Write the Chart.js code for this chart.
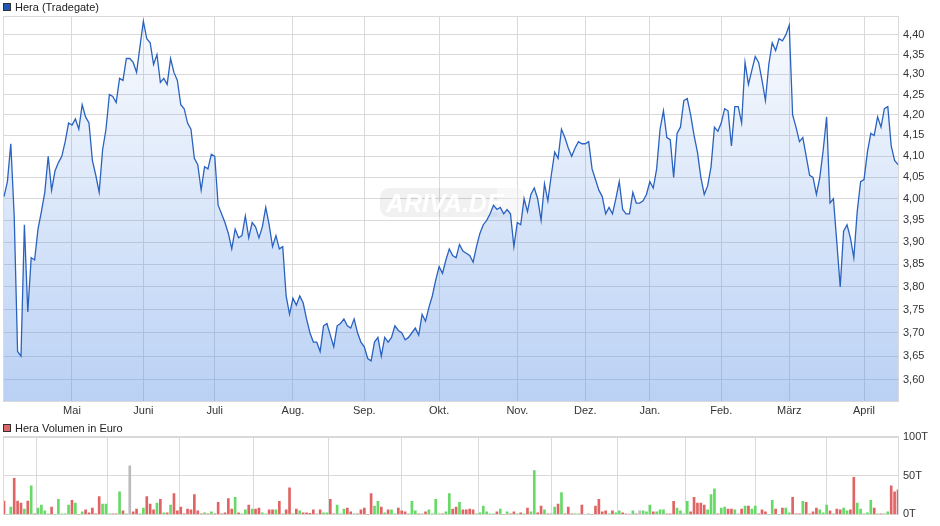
<!DOCTYPE html>
<html>
<head>
<meta charset="utf-8">
<script src="https://cdn.jsdelivr.net/npm/chart.js@4.4.1/dist/chart.umd.min.js"></script>
<style>
  body { margin: 0; width: 940px; height: 526px; background: #fff; position: relative; overflow: hidden; font-family: "Liberation Sans", Arial, sans-serif; }
  canvas { position: absolute; left: 0; }
  .legend { position: absolute; left: 3px; font-size: 11px; color: #222; line-height: 13px; white-space: nowrap; }
  .legend span.box { display: inline-block; width: 6px; height: 6px; border: 1px solid #333; margin-right: 4px; vertical-align: 0px; }
</style>
</head>
<body>
<canvas id="priceCanvas" width="940" height="420" style="top:0"></canvas>
<canvas id="volumeCanvas" width="940" height="106" style="top:420px"></canvas>
<div class="legend" style="top:1px"><span class="box" style="background:#1f56b8"></span>Hera (Tradegate)</div>
<div class="legend" style="top:422px"><span class="box" style="background:#dd6666"></span>Hera Volumen in Euro</div>
<script>
// daily closes (Tradegate)
const prices = [
  4.005,4.04,4.13,3.96,3.66,3.65,3.94,3.745,3.865,3.86,
  3.93,3.97,4.015,4.10,4.02,4.065,4.085,4.10,4.135,4.18,
  4.175,4.19,4.165,4.225,4.195,4.18,4.09,4.055,4.015,4.115,
  4.165,4.25,4.245,4.23,4.29,4.285,4.34,4.34,4.33,4.305,
  4.37,4.435,4.39,4.38,4.325,4.35,4.28,4.29,4.275,4.34,
  4.305,4.285,4.225,4.215,4.18,4.165,4.095,4.08,4.02,4.075,
  4.07,4.105,4.10,3.985,3.965,3.945,3.92,3.885,3.93,3.91,
  3.915,3.96,3.91,3.945,3.935,3.91,3.935,3.98,3.94,3.89,
  3.915,3.885,3.89,3.78,3.74,3.775,3.76,3.78,
  3.765,3.73,3.70,3.68,3.68,3.66,3.715,3.72,3.695,3.67,
  3.715,3.72,3.73,3.715,3.71,3.73,3.70,3.68,3.67,3.645,
  3.64,3.68,3.69,3.65,3.69,3.68,3.69,3.715,3.705,3.70,
  3.685,3.69,3.70,3.71,3.695,3.74,3.725,3.755,3.78,3.815,
  3.845,3.83,3.86,3.885,3.87,3.865,3.895,3.88,3.875,3.87,
  3.855,3.89,3.92,3.94,3.95,3.965,3.985,3.975,3.98,3.965,
  3.975,3.965,3.89,3.945,3.94,4.00,3.97,4.01,4.025,4.00,
  3.95,4.035,3.995,4.055,4.11,4.095,4.165,4.145,4.12,4.10,
  4.12,4.135,4.13,4.13,4.135,4.07,4.045,4.02,
  4.005,3.965,3.98,3.965,4.00,4.04,3.975,3.965,3.965,4.015,
  3.99,3.99,3.995,4.01,4.04,4.025,4.07,4.165,4.21,4.145,
  4.14,4.05,4.155,4.17,4.235,4.24,4.20,4.15,4.11,4.05,
  4.01,4.03,4.075,4.17,4.16,4.18,4.215,4.21,4.125,4.22,
  4.22,4.18,4.33,4.275,4.31,4.345,4.33,4.285,4.235,4.325,
  4.38,4.36,4.39,4.385,4.40,4.425,4.20,4.17,4.135,4.145,
  4.10,4.055,4.05,4.01,4.05,4.115,4.195,3.99,4.00,3.90,
  3.80,3.925,3.94,3.91,3.865,3.97,4.04,4.045,4.11,4.155,
  4.15,4.195,4.17,4.215,4.22,4.125,4.09,4.08
];

// daily turnover in thousand euro
const volumes = [
  17.3,0,9.5,46.7,17.3,14.5,7.0,17.3,36.8,0.8,
  8.3,12,4.5,0.8,9.5,0,19.4,0.8,0.8,12,
  18.2,14.5,0,3.3,5.8,2.1,8.3,0.8,23.1,13.2,
  13.2,0.8,0.8,0.8,29.3,4.5,0.8,62.8,3.3,7.0,
  0.8,8.3,23.1,13.2,5.8,14.5,19.4,2.1,2.1,12,
  26.8,4.5,9.5,0.8,7.0,5.8,25.6,4.5,0.8,2.1,
  0.8,3.3,0.8,15.7,0.8,2.1,20.6,7.0,21.9,2.1,
  0.8,5.8,12,7.0,7.0,8.3,2.1,0.8,5.8,5.8,
  5.8,16.9,0.8,5.8,34.3,0.8,7.0,4.5,2.1,2.1,
  1.5,5.8,0.8,5.8,2.1,2.1,19.4,0.8,12,0.8,
  7.0,8.3,3.3,0.8,0.8,5.8,8.3,0,26.8,10.7,
  16.9,9.5,2.1,5.8,5.8,0.8,8.3,4.5,3.3,0.8,
  16.9,4.5,0.8,0.8,3.3,5.8,0.8,19.4,0.8,0.8,
  3.3,26.8,7.0,9.5,15.7,5.8,5.8,7.0,5.8,0.8,
  2.1,10.7,3.3,0.8,0.8,3.3,7.0,0,3.3,0.8,
  3.3,0.8,2.1,0.8,8.3,3.3,56.6,2.1,10.7,5.8,
  0.8,0.8,9.5,13.2,28.1,0.8,9.5,0.8,0.8,0.8,
  12,0,0.8,0,10.7,19.4,3.3,4.5,0.8,4.5,
  2.1,4.5,2.1,0.8,0.8,4.5,0.8,4.5,4.5,3.3,
  12,3.3,3.3,5.8,5.8,0.8,0.8,16.9,8.3,4.5,
  0.8,16.9,3.3,21.9,14.5,14.5,12,5.8,25.6,33,
  0.8,8.3,9.5,7.0,7.0,5.8,0.8,7.0,10.7,10.7,
  7.0,10.7,0.8,5.8,3.3,0,18.2,7.0,0,8.3,
  8.3,2.1,21.9,0.8,0.8,16.9,15.7,0.8,3.3,8.3,
  5.8,2.1,12,4.5,0.8,7.0,5.8,8.3,4.5,5.8,
  47.9,14.5,7.0,0.8,2.1,18.2,8.3,0.8,0.8,0.8,
  3.3,36.8,29.3,31.8
];

const monthNames = ['Mai','Juni','Juli','Aug.','Sep.','Okt.','Nov.','Dez.','Jan.','Feb.','März','April'];
const monthStarts = [20,41,62,85,106,128,151,171,190,211,231,253];
const priceTicks = [3.60,3.65,3.70,3.75,3.80,3.85,3.90,3.95,4.00,4.05,4.10,4.15,4.20,4.25,4.30,4.35,4.40];
const volumeTicks = [0,50,100];

const xLabels = prices.map((p, i) => {
  let m = monthStarts.indexOf(i);
  return m >= 0 ? monthNames[m] : '';
});

const gridColor = '#d9d9d9';
const tickFont = { family: '"Liberation Sans", Arial, sans-serif', size: 11 };
const tickColor = '#333';

// light frame round the plot area
const frame = {
  id: 'frame',
  beforeDatasetsDraw(chart) {
    let a = chart.chartArea;
    let ctx = chart.ctx;
    ctx.save();
    ctx.strokeStyle = gridColor;
    ctx.lineWidth = 1;
    ctx.strokeRect(Math.round(a.left) - 0.5, Math.round(a.top) - 0.5, Math.round(a.right - a.left) + 1, Math.round(a.bottom - a.top) + 1);
    ctx.restore();
  }
};

// faint ARIVA.DE badge in the middle of the price panel
const watermark = {
  id: 'watermark',
  beforeDatasetsDraw(chart) {
    let ctx = chart.ctx;
    ctx.save();
    ctx.beginPath();
    ctx.roundRect(380, 188, 145, 29, 9);
    ctx.fillStyle = 'rgba(0,0,0,0.055)';
    ctx.fill();
    ctx.beginPath();
    ctx.rect(497, 186, 30, 33);
    ctx.clip();
    ctx.beginPath();
    ctx.roundRect(380, 188, 145, 29, 9);
    ctx.fillStyle = 'rgba(255,255,255,0.45)';
    ctx.fill();
    ctx.restore();
    ctx.save();
    ctx.font = 'italic bold 25px "Liberation Sans", Arial, sans-serif';
    ctx.fillStyle = 'rgba(255,255,255,0.95)';
    ctx.textBaseline = 'alphabetic';
    ctx.fillText('ARIVA.DE', 386, 212);
    ctx.restore();
  }
};

function monthGrid(scale) {
  scale.ticks = monthStarts.map(v => ({ value: v }));
}

new Chart(document.getElementById('priceCanvas'), {
  type: 'line',
  data: {
    labels: xLabels,
    datasets: [{
      data: prices,
      borderColor: '#2a62c0',
      borderWidth: 1.3,
      pointRadius: 0,
      tension: 0,
      fill: 'start',
      backgroundColor: (c) => {
        let area = c.chart.chartArea;
        if (!area) return 'rgba(0,0,0,0)';
        let g = c.chart.ctx.createLinearGradient(0, area.top, 0, area.bottom);
        g.addColorStop(0, 'rgba(90,145,230,0.03)');
        g.addColorStop(1, 'rgba(90,145,230,0.42)');
        return g;
      }
    }]
  },
  options: {
    responsive: false,
    animation: false,
    layout: { padding: { left: 4, top: 17, right: 0, bottom: 0 } },
    scales: {
      x: {
        offset: false,
        afterBuildTicks: monthGrid,
        afterFit: (s) => { s.height = 19; },
        grid: { color: gridColor, drawTicks: false },
        border: { display: false },
        ticks: { autoSkip: false, maxRotation: 0, padding: 3, font: tickFont, color: tickColor }
      },
      y: {
        type: 'logarithmic',
        position: 'right',
        min: 3.556,
        max: 4.446,
        afterBuildTicks: (s) => { s.ticks = priceTicks.map(v => ({ value: v })); },
        afterFit: (s) => { s.width = 42; },
        grid: { color: gridColor, drawTicks: false },
        border: { color: '#cccccc' },
        ticks: {
          padding: 5,
          font: tickFont,
          color: tickColor,
          callback: (v) => Number(v).toFixed(2).replace('.', ',')
        }
      }
    },
    plugins: { legend: { display: false }, tooltip: { enabled: false } }
  },
  plugins: [frame, watermark]
});

const barColors = prices.map((p, i) => {
  if (i === 0 || p < prices[i - 1]) return '#e06464';
  if (p > prices[i - 1]) return '#66d966';
  return '#bbbbbb';
});

new Chart(document.getElementById('volumeCanvas'), {
  type: 'bar',
  data: {
    labels: xLabels,
    datasets: [{
      data: volumes,
      backgroundColor: barColors,
      barThickness: 2,
      borderWidth: 0
    }]
  },
  options: {
    responsive: false,
    animation: false,
    layout: { padding: { left: 4, top: 17, right: 0, bottom: 0 } },
    scales: {
      x: {
        offset: false,
        afterBuildTicks: monthGrid,
        afterFit: (s) => { s.height = 9; },
        grid: { color: gridColor, drawTicks: false },
        border: { display: false },
        ticks: { display: false }
      },
      y: {
        position: 'right',
        min: 0,
        max: 100,
        afterBuildTicks: (s) => { s.ticks = volumeTicks.map(v => ({ value: v })); },
        afterFit: (s) => { s.width = 42; },
        grid: { color: gridColor, drawTicks: false },
        border: { color: '#cccccc' },
        ticks: { padding: 5, font: tickFont, color: tickColor, callback: (v) => v + 'T' }
      }
    },
    plugins: { legend: { display: false }, tooltip: { enabled: false } }
  },
  plugins: [frame]
});
</script>
</body>
</html>
